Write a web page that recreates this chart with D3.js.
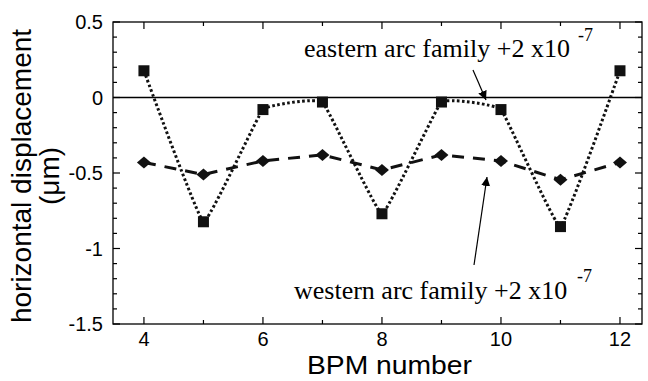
<!DOCTYPE html>
<html>
<head>
<meta charset="utf-8">
<script src="https://cdn.jsdelivr.net/npm/d3@7"></script>
<style>
body{margin:0;background:#fff;}
svg{display:block;}
</style>
</head>
<body>
<svg id="svg_canvas" width="648" height="381"></svg>
<script>
// BPM numbers and the two families
var bpm=[4,5,6,7,8,9,10,11,12];
var eastern=[0.177,-0.823,-0.08,-0.03,-0.77,-0.03,-0.08,-0.855,0.177];
var western=[-0.43,-0.51,-0.42,-0.38,-0.48,-0.38,-0.42,-0.545,-0.43];
var x_ticks=[4,6,8,10,12];
var y_ticks=[0.5,0,-0.5,-1,-1.5];

var left_x=113, right_x=642, top_y=22, bottom_y=324;

var svg=d3.select("#svg_canvas");
var x=d3.scaleLinear().domain([3.48,12.37]).range([left_x,right_x]);
var y=d3.scaleLinear().domain([-1.5,0.5]).range([bottom_y,top_y]);

var sans="Liberation Sans, Arial, Helvetica, sans-serif";
var serif="Liberation Serif, Times New Roman, serif";

// frame
svg.append("rect")
	.attr("x",left_x).attr("y",top_y)
	.attr("width",right_x-left_x).attr("height",bottom_y-top_y)
	.attr("fill","none").attr("stroke","#000").attr("stroke-width",1.3);

// ticks, inside, on all four sides
var minor_x=d3.range(4,12.5,1);
minor_x.forEach(function(v){
	var len=(v%2==0)?7:4;
	svg.append("line").attr("x1",x(v)).attr("x2",x(v)).attr("y1",bottom_y).attr("y2",bottom_y-len).attr("stroke","#000").attr("stroke-width",1.2);
	svg.append("line").attr("x1",x(v)).attr("x2",x(v)).attr("y1",top_y).attr("y2",top_y+len).attr("stroke","#000").attr("stroke-width",1.2);
});
var minor_y=d3.range(-15,6,1).map(function(d){return d/10;});
minor_y.forEach(function(v){
	var len=(Math.round(v*10)%5==0)?7:4;
	svg.append("line").attr("y1",y(v)).attr("y2",y(v)).attr("x1",left_x).attr("x2",left_x+len).attr("stroke","#000").attr("stroke-width",1.2);
	svg.append("line").attr("y1",y(v)).attr("y2",y(v)).attr("x1",right_x).attr("x2",right_x-len).attr("stroke","#000").attr("stroke-width",1.2);
});

// tick labels
svg.selectAll(".xlab").data(x_ticks).enter().append("text")
	.attr("x",function(d){return x(d);})
	.attr("y",bottom_y+22)
	.attr("text-anchor","middle")
	.attr("font-family",sans).attr("font-size",20)
	.text(function(d){return d;});
svg.selectAll(".ylab").data(y_ticks).enter().append("text")
	.attr("x",left_x-10)
	.attr("y",function(d){return y(d)+7;})
	.attr("text-anchor","end")
	.attr("font-family",sans).attr("font-size",20)
	.text(function(d){return d;});

// axis titles
svg.append("text")
	.attr("x",307).attr("y",374)
	.attr("font-family",sans).attr("font-size",26)
	.attr("textLength",165).attr("lengthAdjust","spacingAndGlyphs")
	.text("BPM number");
svg.append("text")
	.attr("transform","translate(31,176) rotate(-90)")
	.attr("text-anchor","middle")
	.attr("font-family",sans).attr("font-size",28)
	.text("horizontal displacement");
svg.append("text")
	.attr("transform","translate(59,176) rotate(-90)")
	.attr("text-anchor","middle")
	.attr("font-family",sans).attr("font-size",28)
	.text("(\u03bcm)");

// zero line
svg.append("line")
	.attr("x1",left_x).attr("x2",right_x)
	.attr("y1",y(0)).attr("y2",y(0))
	.attr("stroke","#000").attr("stroke-width",1.3);

var east_pts=bpm.map(function(b,i){return [x(b),y(eastern[i])];});
var west_pts=bpm.map(function(b,i){return [x(b),y(western[i])];});

svg.append("path")
	.attr("d",d3.line().curve(d3.curveCardinal.tension(0.75))(east_pts))
	.attr("fill","none").attr("stroke","#111").attr("stroke-width",3)
	.attr("stroke-dasharray","2.6 2.4");

svg.append("path")
	.attr("d",d3.line()(west_pts))
	.attr("fill","none").attr("stroke","#111").attr("stroke-width",3)
	.attr("stroke-dasharray","12 9");

// markers
svg.selectAll(".sq").data(east_pts).enter().append("rect")
	.attr("x",function(d){return d[0]-5.5;})
	.attr("y",function(d){return d[1]-5.5;})
	.attr("width",11).attr("height",11).attr("fill","#111");
svg.selectAll(".dm").data(west_pts).enter().append("path")
	.attr("d",function(d){return "M"+d[0]+","+(d[1]-6)+"L"+(d[0]+7)+","+d[1]+"L"+d[0]+","+(d[1]+6)+"L"+(d[0]-7)+","+d[1]+"Z";})
	.attr("fill","#111");

// annotations
svg.append("defs").append("marker")
	.attr("id","to_arrow").attr("viewBox","0 0 10 10")
	.attr("refX",10).attr("refY",5)
	.attr("markerWidth",9).attr("markerHeight",10)
	.attr("markerUnits","userSpaceOnUse")
	.attr("orient","auto")
	.append("path").attr("d","M0,0L10,5L0,10Z").attr("fill","#000");

svg.append("text").attr("font-family",serif).attr("font-size",26)
	.attr("x",304).attr("y",57).text("eastern arc family +2 x10");
svg.append("text").attr("font-family",serif).attr("font-size",18)
	.attr("x",578).attr("y",41).text("-7");
svg.append("line")
	.attr("x1",473).attr("y1",70).attr("x2",486).attr("y2",100)
	.attr("stroke","#000").attr("stroke-width",1.2).attr("marker-end","url(#to_arrow)");

svg.append("text").attr("font-family",serif).attr("font-size",26)
	.attr("x",294).attr("y",299).text("western arc family +2 x10");
svg.append("text").attr("font-family",serif).attr("font-size",18)
	.attr("x",577).attr("y",282).text("-7");
svg.append("line")
	.attr("x1",474).attr("y1",265).attr("x2",487).attr("y2",177)
	.attr("stroke","#000").attr("stroke-width",1.2).attr("marker-end","url(#to_arrow)");
</script>
</body>
</html>
